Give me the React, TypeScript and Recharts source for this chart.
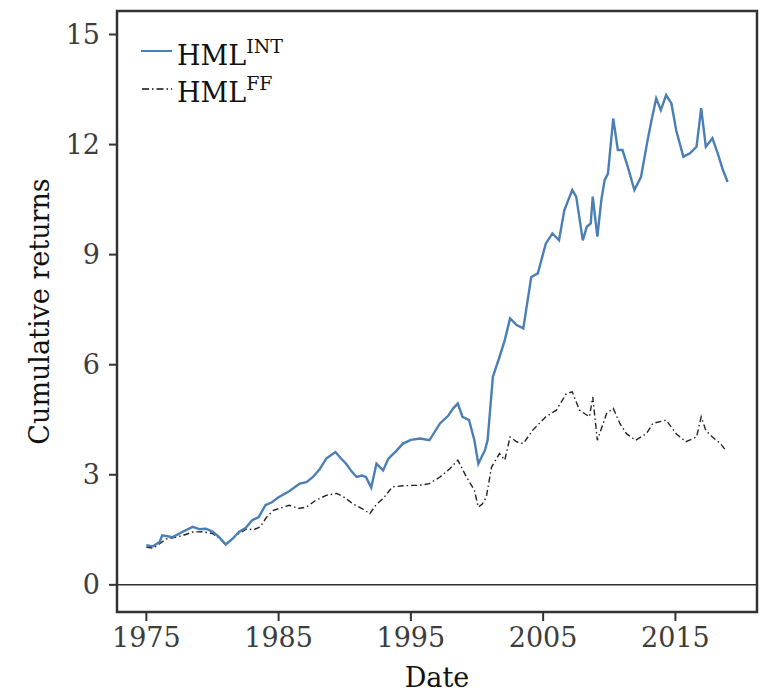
import React from 'react';
import {
  LineChart,
  Line,
  XAxis,
  YAxis,
  ReferenceLine,
  ReferenceArea,
} from 'recharts';

const xTicks = [1975, 1985, 1995, 2005, 2015];
const yTicks = [0, 3, 6, 9, 12, 15];

const intYears = [
  1975.0, 1975.5, 1976.0, 1976.2, 1977.0, 1977.6, 1978.5, 1979.0, 1979.5, 1980.0,
  1980.5, 1981.0, 1981.5, 1982.0, 1982.5, 1983.0, 1983.5, 1984.0, 1984.5, 1985.0,
  1985.8, 1986.6, 1987.1, 1987.6, 1988.1, 1988.6, 1989.3, 1989.7, 1990.1, 1990.5,
  1990.9, 1991.3, 1991.6, 1992.0, 1992.4, 1992.9, 1993.3, 1993.9, 1994.4, 1995.0,
  1995.7, 1996.4, 1997.2, 1997.8, 1998.2, 1998.55, 1998.9, 1999.4, 1999.8, 2000.1,
  2000.6, 2000.8, 2001.2, 2001.7, 2002.1, 2002.5, 2003.0, 2003.5, 2004.1, 2004.6,
  2005.2, 2005.7, 2006.2, 2006.6, 2007.2, 2007.5, 2008.0, 2008.3, 2008.6, 2008.75,
  2009.1, 2009.4, 2009.65, 2009.9, 2010.3, 2010.65, 2011.0, 2011.4, 2011.9, 2012.4,
  2012.9, 2013.2, 2013.55, 2013.9, 2014.3, 2014.7, 2015.06, 2015.6, 2016.1, 2016.6,
  2016.95, 2017.3, 2017.8, 2018.2, 2018.6, 2018.95,
];
const intValues = [
  1.08, 1.05, 1.17, 1.35, 1.3, 1.42, 1.58, 1.52, 1.53, 1.45,
  1.3, 1.1, 1.25, 1.44, 1.55, 1.76, 1.85, 2.17, 2.25, 2.39,
  2.55, 2.76, 2.8, 2.94, 3.15, 3.44, 3.62, 3.45, 3.3, 3.1,
  2.94, 2.98, 2.94, 2.65, 3.3, 3.12, 3.44, 3.65, 3.85, 3.95,
  3.99, 3.94, 4.4, 4.6, 4.81, 4.94, 4.58, 4.49, 3.94, 3.3,
  3.67, 3.94, 5.67, 6.21, 6.67, 7.26, 7.08, 6.99, 8.39, 8.49,
  9.3, 9.58, 9.39, 10.21, 10.76, 10.58, 9.39, 9.76, 9.85, 10.58,
  9.49, 10.49, 11.03, 11.21, 12.71, 11.85, 11.85, 11.39, 10.76, 11.12,
  12.12, 12.67, 13.26, 12.94, 13.35, 13.12, 12.39, 11.67, 11.76, 11.94,
  12.99, 11.94, 12.17, 11.76, 11.3, 10.98,
];

const ffYears = [
  1975.0, 1975.5, 1976.0, 1976.5, 1977.0, 1977.8, 1978.5, 1979.2, 1980.0, 1980.5,
  1981.0, 1981.8, 1982.6, 1983.1, 1983.6, 1984.1, 1984.6, 1985.2, 1985.8, 1986.5,
  1987.1, 1987.8, 1988.6, 1989.4, 1990.0, 1990.6, 1991.3, 1991.9, 1992.4, 1992.9,
  1993.6, 1994.4, 1995.15, 1995.65, 1996.4, 1997.2, 1997.9, 1998.55, 1999.2, 1999.8,
  2000.1, 2000.4, 2000.7, 2001.1, 2001.7, 2002.1, 2002.5, 2003.0, 2003.5, 2004.2,
  2005.2, 2006.0, 2006.75, 2007.2, 2007.75, 2008.5, 2008.75, 2009.1, 2009.8, 2010.3,
  2010.8, 2011.3, 2012.0, 2012.8, 2013.3, 2014.3, 2015.06, 2015.8, 2016.6, 2016.95,
  2017.3, 2017.8, 2018.4, 2018.8,
];
const ffValues = [
  1.03, 1.0, 1.12, 1.25, 1.28, 1.35, 1.44, 1.45, 1.4, 1.28,
  1.1, 1.35, 1.53, 1.5, 1.58, 1.85, 2.03, 2.1, 2.17, 2.08,
  2.12, 2.3, 2.44, 2.49, 2.38, 2.21, 2.08, 1.94, 2.2, 2.35,
  2.67, 2.7, 2.71, 2.71, 2.76, 2.94, 3.15, 3.4, 2.94, 2.58,
  2.12, 2.2, 2.39, 3.21, 3.58, 3.4, 4.03, 3.9, 3.85, 4.21,
  4.58, 4.76, 5.21, 5.26, 4.76, 4.58, 5.12, 3.94, 4.67, 4.81,
  4.4, 4.12, 3.94, 4.12, 4.4, 4.49, 4.12, 3.9, 4.03, 4.58,
  4.21, 4.03, 3.85, 3.67,
];

const intData = intYears.map((year, i) => ({ year, value: intValues[i] }));
const ffData = ffYears.map((year, i) => ({ year, value: ffValues[i] }));

const X_DOMAIN: [number, number] = [1972.78, 2021.17];
const Y_DOMAIN: [number, number] = [-0.74, 15.64];

const FONT = '"DejaVu Serif", serif';
const INK = '#333';
const BLUE = '#4a7fb6';
const tickStyle = { fontFamily: FONT, fontSize: 27, fill: '#3d3d3d' };

function LegendBox() {
  return (
    <svg
      width={340}
      height={120}
      style={{ position: 'absolute', left: 0, top: 0, pointerEvents: 'none' }}
    >
      <line x1={133} y1={43} x2={164} y2={43} stroke={BLUE} strokeWidth={2} />
      <text x={169} y={57} fontFamily={FONT} fontSize={27} fill="#111">
        HML
        <tspan dy={-12} fontSize={19}>INT</tspan>
      </text>
      <line
        x1={134}
        y1={81}
        x2={164}
        y2={81}
        stroke="#111"
        strokeWidth={1.5}
        strokeDasharray="7 3 1.5 3"
      />
      <text x={169} y={94} fontFamily={FONT} fontSize={27} fill="#111">
        HML
        <tspan dy={-12} fontSize={19}>FF</tspan>
      </text>
    </svg>
  );
}

export default function App() {
  return (
    <div style={{ position: 'relative', width: 761, height: 685 }}>
      <LineChart
        width={761}
        height={685}
        margin={{ top: 3, right: 12, bottom: 0, left: 0 }}
      >
        <XAxis
          type="number"
          dataKey="year"
          domain={X_DOMAIN}
          ticks={xTicks}
          allowDataOverflow
          axisLine={false}
          tickLine={{ stroke: INK, strokeWidth: 2 }}
          tickSize={9}
          tickMargin={7}
          tick={tickStyle}
          height={81}
          label={{
            value: 'Date',
            position: 'insideBottom',
            offset: 6,
            style: { fontFamily: FONT, fontSize: 27, fill: '#111' },
          }}
        />
        <YAxis
          type="number"
          domain={Y_DOMAIN}
          ticks={yTicks}
          allowDataOverflow
          axisLine={false}
          tickLine={{ stroke: INK, strokeWidth: 2 }}
          tickSize={8}
          tickMargin={9}
          tick={tickStyle}
          width={109}
          label={{
            value: 'Cumulative returns',
            angle: -90,
            position: 'insideLeft',
            offset: 31,
            style: { fontFamily: FONT, fontSize: 27, fill: '#111', textAnchor: 'middle' },
          }}
        />
        <ReferenceLine y={0} stroke={INK} strokeWidth={1.5} />
        <Line
          data={ffData}
          dataKey="value"
          type="linear"
          stroke="#222"
          strokeWidth={1.4}
          strokeDasharray="6 3 1.5 3"
          dot={false}
          isAnimationActive={false}
        />
        <Line
          data={intData}
          dataKey="value"
          type="linear"
          stroke={BLUE}
          strokeWidth={2.4}
          dot={false}
          isAnimationActive={false}
        />
        <ReferenceArea
          x1={X_DOMAIN[0]}
          x2={X_DOMAIN[1]}
          y1={Y_DOMAIN[0]}
          y2={Y_DOMAIN[1]}
          fill="none"
          stroke={INK}
          strokeWidth={2.5}
          ifOverflow="visible"
        />
      </LineChart>
      <LegendBox />
    </div>
  );
}
